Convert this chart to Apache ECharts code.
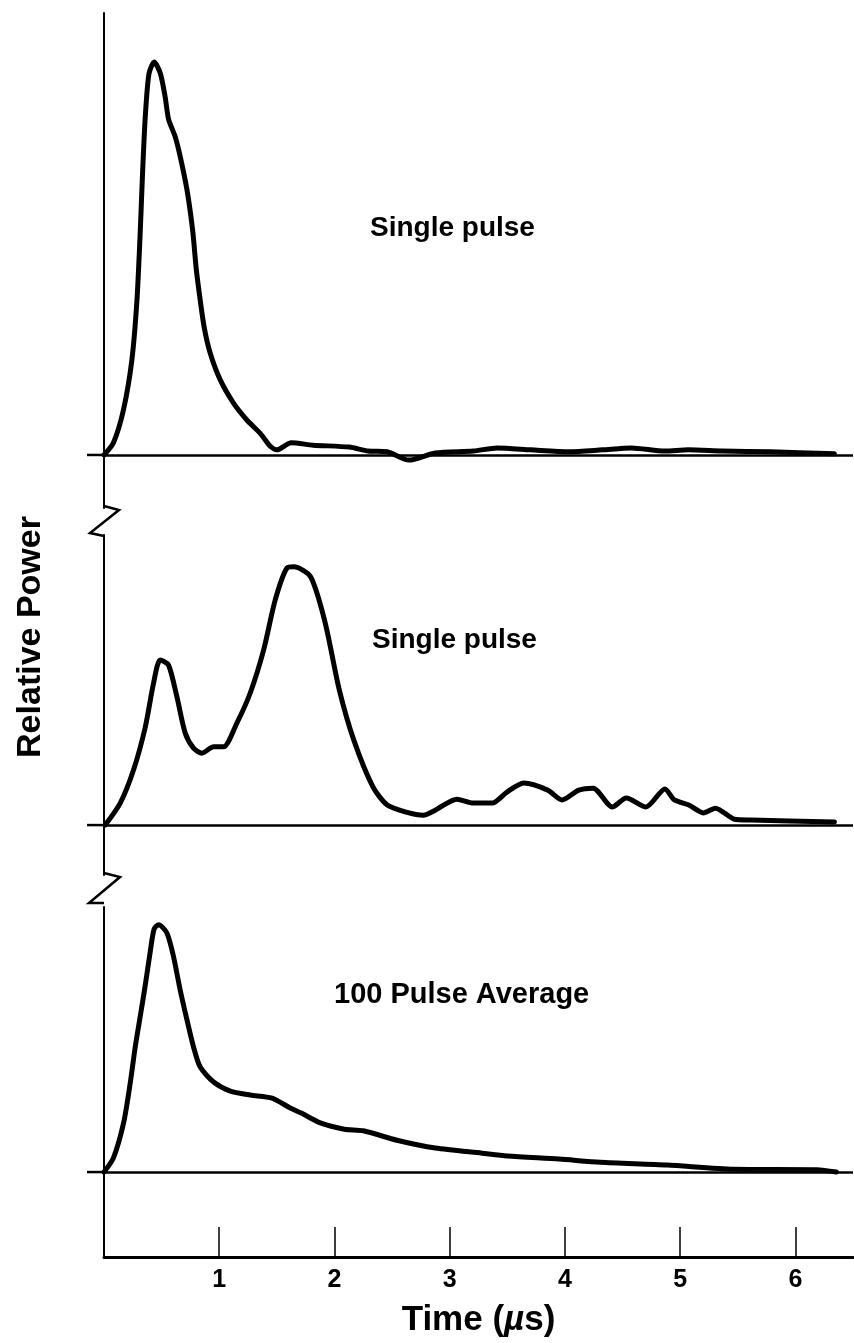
<!DOCTYPE html>
<html>
<head>
<meta charset="utf-8">
<script src="https://cdn.jsdelivr.net/npm/echarts@6/dist/echarts.min.js"></script>
<style>
html,body{margin:0;padding:0;background:#fff;}
#chart{width:854px;height:1343px;}
</style>
</head>
<body>
<div id="chart"></div>
<script>
// Time axis (µs)
const xTickValues = [1, 2, 3, 4, 5, 6];
const xTickLabels = ['1', '2', '3', '4', '5', '6'];

// Panel 1: single pulse [time µs, relative power]
const pulseA = [
  [0,0],[0.082,3.1],[0.169,11.5],[0.242,24.2],[0.286,39.4],[0.314,56.5],[0.335,72.0],
  [0.358,86.0],[0.390,97.0],[0.436,100],[0.488,97.2],[0.531,91.1],[0.560,85.5],
  [0.618,81.0],[0.661,76.0],[0.720,67.5],[0.770,57.0],[0.800,47.5],[0.835,39.4],
  [0.870,32.4],[0.922,25.9],[1.009,19.1],[1.124,13.2],[1.240,8.9],[1.356,5.5],
  [1.443,2.2],[1.501,1.3],[1.625,3.1],[1.816,2.5],[2.128,2.0],[2.293,1.0],[2.457,0.8],
  [2.646,-1.3],[2.875,0.5],[3.205,1.0],[3.413,1.8],[3.705,1.3],[4.038,0.8],[4.325,1.3],
  [4.576,1.8],[4.868,1.0],[5.071,1.3],[5.366,1.0],[5.783,0.8],[6.339,0.3]
];

// Panel 2: single pulse
const pulseB = [
  [0.010,0],[0.141,5.6],[0.256,14.0],[0.358,24.9],[0.430,36.1],[0.488,42.0],[0.560,40.7],
  [0.633,32.6],[0.705,23.4],[0.777,19.6],[0.850,18.3],[0.951,19.9],[1.037,19.9],
  [1.154,26.0],[1.269,33.6],[1.385,44.5],[1.486,57.3],[1.588,65.4],[1.649,65.7],
  [1.794,63.1],[1.920,51.4],[2.042,34.4],[2.168,21.6],[2.334,9.7],[2.458,5.1],
  [2.623,3.3],[2.771,2.5],[2.875,3.8],[3.062,6.6],[3.205,5.6],[3.370,5.6],[3.497,8.4],
  [3.643,10.7],[3.851,8.9],[3.975,6.4],[4.121,8.9],[4.245,9.4],[4.411,4.6],[4.533,6.9],
  [4.702,4.6],[4.868,9.2],[4.950,6.4],[5.076,5.1],[5.201,3.1],[5.306,4.3],[5.471,1.5],
  [5.615,1.3],[6.339,0.8]
];

// Panel 3: 100 pulse average
const pulseAvg = [
  [0,0],[0.082,3.6],[0.170,12.5],[0.227,22.5],[0.271,31.8],[0.314,39.5],
  [0.358,47.5],[0.401,56.0],[0.435,61.8],[0.474,62.9],[0.546,60.8],[0.604,54.7],
  [0.661,46.3],[0.720,38.7],[0.777,31.8],[0.835,26.7],[0.951,22.9],[1.096,20.6],
  [1.269,19.6],[1.458,18.8],[1.616,16.3],[1.712,15.0],[1.877,12.5],[2.085,10.9],
  [2.250,10.5],[2.542,8.1],[2.875,6.1],[3.280,4.8],[3.500,4.1],[3.950,3.3],[4.307,2.5],
  [4.886,1.8],[5.464,0.7],[6.188,0.6],[6.356,0]
];

const panelLabels = ['Single pulse', 'Single pulse', '100 Pulse Average'];

const chart = echarts.init(document.getElementById('chart'), null, {renderer: 'canvas'});
const FONT = '"Liberation Sans", Arial, Helvetica, sans-serif';
const black = '#000';

function hiddenX(gi) {
  return {type:'value', gridIndex:gi, min:0, max:6.5, show:false};
}
function yAx(gi, mn, mx) {
  return {type:'value', gridIndex:gi, min:mn, max:mx,
    axisLine:{show:true, onZero:false, lineStyle:{color:black, width:2}},
    axisTick:{show:false}, axisLabel:{show:false}, splitLine:{show:false}};
}
function lineSeries(gi, data) {
  return {type:'line', xAxisIndex:gi, yAxisIndex:gi, data:data, smooth:0.25,
    showSymbol:false, symbol:'none', silent:true,
    lineStyle:{color:black, width:5, cap:'round', join:'round'},
    markLine:{silent:true, symbol:'none', label:{show:false},
      lineStyle:{color:black, width:2.5, type:'solid'}, data:[{yAxis:0}]}};
}

const option = {
  backgroundColor:'#fff',
  animation:false,
  grid:[
    {left:104, right:1, top:13, height:495},
    {left:104, right:1, top:535, height:340},
    {left:104, right:1, top:907, height:350}
  ],
  xAxis:[
    hiddenX(0), hiddenX(1),
    {type:'value', gridIndex:2, min:0, max:6.5, interval:1, position:'bottom',
      axisLine:{show:true, onZero:false, lineStyle:{color:black, width:3}},
      axisTick:{show:true, inside:true, length:30, customValues:xTickValues,
        lineStyle:{color:black, width:1.5}},
      axisLabel:{show:true, customValues:xTickValues, margin:11,
        formatter:function(v){ const i = xTickValues.indexOf(v); return i>=0 ? xTickLabels[i] : ''; },
        color:black, fontFamily:FONT, fontWeight:'bold', fontSize:25},
      splitLine:{show:false},
      name:'Time ({i|µ}s)', nameLocation:'middle', nameGap:46,
      nameTextStyle:{color:black, fontFamily:FONT, fontWeight:'bold', fontSize:35,
        rich:{i:{fontStyle:'italic', fontWeight:'bold', fontSize:35, fontFamily:FONT, color:black}}}
    }
  ],
  yAxis:[
    yAx(0, -13.5, 112.5),
    yAx(1, -12.7, 73.8),
    yAx(2, -21.6, 67.4)
  ],
  series:[
    lineSeries(0, pulseA),
    lineSeries(1, pulseB),
    lineSeries(2, pulseAvg)
  ],
  graphic:[
    {type:'text', left:370, top:214, style:{text:panelLabels[0], fill:black, font:'bold 28px '+FONT}},
    {type:'text', left:372, top:626, style:{text:panelLabels[1], fill:black, font:'bold 28px '+FONT}},
    {type:'text', left:334, top:980, style:{text:panelLabels[2], fill:black, font:'bold 29px '+FONT}},
    {type:'text', x:31, y:637, rotation:Math.PI/2,
      style:{text:'Relative Power', fill:black, font:'bold 34px '+FONT, align:'center', verticalAlign:'middle'}}
  ]
};
chart.setOption(option);

// decorations anchored to the axes: baseline stubs left of the axis and axis-break marks
const extra = [];
for (let g = 0; g < 3; g++) {
  const p0 = chart.convertToPixel({xAxisIndex:g, yAxisIndex:g}, [0, 0]);
  extra.push({type:'line', shape:{x1:p0[0]-17, y1:p0[1], x2:p0[0], y2:p0[1]},
    style:{stroke:black, lineWidth:2.5}});
}
const ax = chart.convertToPixel({xAxisIndex:0, yAxisIndex:0}, [0, 0])[0];
const g0 = chart.getModel().getComponent('grid', 0).coordinateSystem.getRect();
const g1 = chart.getModel().getComponent('grid', 1).coordinateSystem.getRect();
const g2 = chart.getModel().getComponent('grid', 2).coordinateSystem.getRect();
const b1 = g0.y + g0.height, b2 = g1.y + g1.height;
extra.push({type:'polyline', shape:{points:[[ax,b1-2],[ax+15,b1+2],[ax-14,g1.y-2],[ax,g1.y+1]]},
  style:{stroke:black, lineWidth:2.5, fill:null}});
extra.push({type:'polyline', shape:{points:[[ax,b2-2],[ax+16,b2+2],[ax-15,g2.y-4],[ax,g2.y-4]]},
  style:{stroke:black, lineWidth:2.5, fill:null}});
chart.setOption({graphic: option.graphic.concat(extra)});
</script>
</body>
</html>
